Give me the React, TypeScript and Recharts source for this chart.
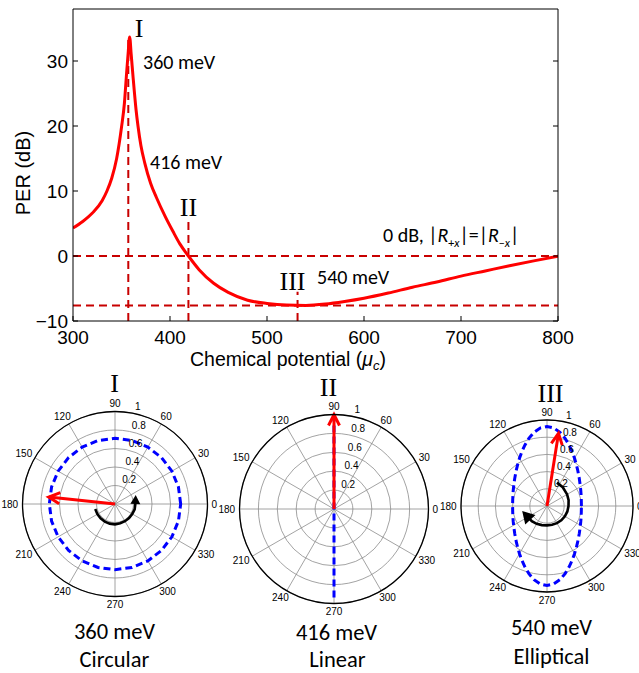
import React from 'react';
import {
  LineChart, Line, XAxis, YAxis, ReferenceLine,
  RadarChart, Radar, PolarGrid, PolarAngleAxis, PolarRadiusAxis,
} from 'recharts';

// ---- top panel: PER vs chemical potential ----
const muTicks = [300, 400, 500, 600, 700, 800];
const perTicks = [-10, 0, 10, 20, 30];
const muValues = [300, 310, 320, 330, 335, 340, 345, 350, 353, 355, 357, 358.4, 360, 362, 365, 367, 370, 374, 380, 386, 395, 403, 410, 419, 430, 445, 460, 480, 500, 520, 540, 560, 580, 600, 625, 650, 675, 700, 725, 750, 775, 800];
const perValues = [4.3, 5.3, 6.6, 8.5, 10.0, 12.0, 15.0, 19.8, 23.5, 27.6, 31.5, 33.7, 31.0, 27.4, 22.5, 20.0, 17.0, 14.3, 11.2, 9.0, 6.1, 3.8, 1.9, 0.0, -2.1, -4.2, -5.6, -6.8, -7.3, -7.55, -7.6, -7.4, -7.0, -6.5, -5.7, -4.8, -4.0, -3.1, -2.3, -1.5, -0.75, -0.05];
const levelLines = [0, -7.6];
const stateMarkers = [
  { mu: 357, top: 33.7 },
  { mu: 419, top: 5.5 },
  { mu: 531.5, top: -5.5 },
];

const perData = muValues.map((mu, i) => ({ mu, per: perValues[i] }));

// ---- polar panels ----
const angleTicks = [0, 30, 60, 90, 120, 150, 180, 210, 240, 270, 300, 330];
const radiusTicks = [0.2, 0.4, 0.6, 0.8, 1];
const circleAngles = [0, 15, 30, 45, 60, 75, 90, 105, 120, 135, 150, 165, 180, 195, 210, 225, 240, 255, 270, 285, 300, 315, 330, 345];
const ellipseI = [0.71, 0.71, 0.71, 0.71, 0.71, 0.71, 0.71, 0.71, 0.71, 0.71, 0.71, 0.71, 0.71, 0.71, 0.71, 0.71, 0.71, 0.71, 0.71, 0.71, 0.71, 0.71, 0.71, 0.71];
const ellipseAngles = [
  0, 5, 10, 15, 20, 25, 30, 35, 40, 45, 50, 55, 60, 65, 70, 75, 80, 85,
  90, 95, 100, 105, 110, 115, 120, 125, 130, 135, 140, 145, 150, 155, 160, 165, 170, 175,
  180, 185, 190, 195, 200, 205, 210, 215, 220, 225, 230, 235, 240, 245, 250, 255, 260, 265,
  270, 275, 280, 285, 290, 295, 300, 305, 310, 315, 320, 325, 330, 335, 340, 345, 350, 355,
];
const ellipseIII = [
  0.400, 0.401, 0.405, 0.411, 0.421, 0.433, 0.448, 0.467, 0.491, 0.519, 0.553, 0.593, 0.640, 0.694, 0.753, 0.814, 0.870, 0.910,
  0.925, 0.910, 0.870, 0.814, 0.753, 0.694, 0.640, 0.593, 0.553, 0.519, 0.491, 0.467, 0.448, 0.433, 0.421, 0.411, 0.405, 0.401,
  0.400, 0.401, 0.405, 0.411, 0.421, 0.433, 0.448, 0.467, 0.491, 0.519, 0.553, 0.593, 0.640, 0.694, 0.753, 0.814, 0.870, 0.910,
  0.925, 0.910, 0.870, 0.814, 0.753, 0.694, 0.640, 0.593, 0.553, 0.519, 0.491, 0.467, 0.448, 0.433, 0.421, 0.411, 0.405, 0.401,
];
const lineIIAngles = [90, 270];
const lineII = [1, 0.98];
const arrowAngles = [174, 90, 81];
const arrowLengths = [0.72, 1, 0.855];
const arcIAngles = [194, 210, 225, 240, 255, 270, 285, 300, 315, 330, 345, 0, 10];
const arcIR = [0.22, 0.22, 0.22, 0.22, 0.22, 0.22, 0.215, 0.215, 0.215, 0.215, 0.22, 0.22, 0.225];
const arcIIIAngles = [67, 50, 30, 15, 0, 345, 330, 315, 300, 285, 270, 255, 240, 225, 207];
const arcIIIR = [0.295, 0.285, 0.27, 0.26, 0.25, 0.245, 0.24, 0.235, 0.23, 0.225, 0.225, 0.23, 0.24, 0.25, 0.26];

function buildRows(curveAngles: number[], curveR: number[], arrowAngle: number, arrowR: number, arcAngles?: number[], arcR?: number[]) {
  const rows: any[] = curveAngles.map((a, i) => ({ angle: a, curve: curveR[i] }));
  rows.push({ angle: arrowAngle, arrow: arrowR });
  if (arcAngles && arcR) arcAngles.forEach((a, i) => rows.push({ angle: a, arc: arcR[i] }));
  return rows;
}

const SANS = '"Liberation Sans", Arial, sans-serif';
const CAL = 'Carlito, Lato, "Open Sans", sans-serif';
const SERIF = '"Liberation Serif", "Times New Roman", serif';

const usable = (points: any[]) => (points || []).filter((p) => p.value != null && Number.isFinite(p.x) && Number.isFinite(p.y));

const curveShape = (closed: boolean) => (props: any) => {
  const pts = usable(props.points);
  if (!pts.length) return <g />;
  const d = 'M' + pts.map((p) => `${p.x},${p.y}`).join('L') + (closed ? 'Z' : '');
  return <path d={d} fill="none" stroke="#0000ff" strokeWidth={3} strokeDasharray="7 4" />;
};

const arrowShape = (props: any) => {
  const pts = usable(props.points);
  return (
    <g>
      {pts.map((p, i) => {
        const a = (p.angle * Math.PI) / 180;
        const ux = Math.cos(a);
        const uy = -Math.sin(a);
        const L = 11;
        const w = 5.5;
        const bx = p.x - ux * L;
        const by = p.y - uy * L;
        return (
          <g key={i}>
            <line x1={p.cx} y1={p.cy} x2={p.x} y2={p.y} stroke="#ff0000" strokeWidth={3} />
            <polyline
              points={`${bx - uy * w},${by + ux * w} ${p.x},${p.y} ${bx + uy * w},${by - ux * w}`}
              fill="none" stroke="#ff0000" strokeWidth={3} strokeLinejoin="miter"
            />
          </g>
        );
      })}
    </g>
  );
};

const arcShape = (L: number, w: number) => (props: any) => {
  const pts = usable(props.points);
  if (pts.length < 2) return <g />;
  const d = 'M' + pts.map((p) => `${p.x},${p.y}`).join('L');
  const last = pts[pts.length - 1];
  const prev = pts[pts.length - 2];
  const dx = last.x - prev.x;
  const dy = last.y - prev.y;
  const n = Math.hypot(dx, dy) || 1;
  const ux = dx / n;
  const uy = dy / n;
  const tipX = last.x + ux * L * 0.6;
  const tipY = last.y + uy * L * 0.6;
  const bx = last.x - ux * L * 0.4;
  const by = last.y - uy * L * 0.4;
  return (
    <g>
      <path d={d} fill="none" stroke="#000" strokeWidth={2.6} />
      <polygon points={`${tipX},${tipY} ${bx - uy * w},${by + ux * w} ${bx + uy * w},${by - ux * w}`} fill="#000" />
    </g>
  );
};

const AngleTick = (props: any) => {
  const { x, y, payload } = props;
  const a = (payload.coordinate * Math.PI) / 180;
  const label = String(payload.value);
  const hw = label.length * 2.9;
  return (
    <text x={x + Math.cos(a) * hw} y={y - Math.sin(a) * 4} textAnchor="middle" dominantBaseline="central"
      fontSize={10} fontFamily={SANS} fill="#000">{label}</text>
  );
};

const RadiusTick = (props: any) => {
  const { x, y, payload } = props;
  return (
    <text x={x + 4} y={y - 6} textAnchor="start" dominantBaseline="central" fontSize={10} fontFamily={SANS} fill="#000">
      {String(payload.value)}
    </text>
  );
};

const noTick = () => <g />;

function PolarPanel({ cx, cy, r, rows, closed, arc }: any) {
  const W = 250;
  const H = 255;
  const top = 375;
  return (
    <div style={{ position: 'absolute', left: cx - W / 2, top }}>
      <RadarChart width={W} height={H} cx={W / 2} cy={cy - top} outerRadius={r} innerRadius={0}
        startAngle={0} endAngle={360} data={rows} margin={{ top: 0, right: 0, bottom: 0, left: 0 }}>
        <PolarGrid gridType="circle" stroke="#8c8c8c" strokeWidth={0.8} />
        <PolarAngleAxis dataKey="angle" type="number" domain={[0, 360]} ticks={angleTicks} allowDataOverflow
          tickLine={false} tickSize={4} axisLine={{ stroke: '#000', strokeWidth: 1.3 }} axisLineType="circle" tick={AngleTick} />
        <PolarRadiusAxis angle={80} type="number" domain={[0, 1]} ticks={radiusTicks} axisLine={false}
          tickLine={false} tick={RadiusTick} />
        <Radar dataKey="curve" isAnimationActive={false} dot={false} shape={curveShape(closed)} />
        <Radar dataKey="arrow" isAnimationActive={false} dot={false} shape={arrowShape} />
        {arc && <Radar dataKey="arc" isAnimationActive={false} dot={false} shape={arcShape(arc[0], arc[1])} />}
      </RadarChart>
    </div>
  );
}

const abs = (left: number, top: number, content: React.ReactNode, style: React.CSSProperties = {}, center = false) => (
  <div style={{
    position: 'absolute', left, top, whiteSpace: 'nowrap', lineHeight: 1,
    transform: center ? 'translate(-50%, -50%)' : 'translateY(-50%)', color: '#000', ...style,
  }}>{content}</div>
);

const minus = (v: number) => String(v).replace('-', '\u2212');

export default function App() {
  const dash = { stroke: '#c80000', strokeWidth: 2, strokeDasharray: '8 5' };
  return (
    <div style={{ position: 'absolute', left: 0, top: 0, width: 639, height: 673, background: '#fff', overflow: 'hidden' }}>
      <div style={{ position: 'absolute', left: 0, top: 0 }}>
        <LineChart width={639} height={350} data={perData} margin={{ top: 8, right: 80, bottom: 0, left: 0 }}>
          <XAxis dataKey="mu" type="number" domain={[300, 800]} ticks={muTicks} allowDataOverflow height={29}
            tickSize={-5} tickMargin={15} stroke="#000" axisLine={{ stroke: '#000' }}
            tick={{ fontSize: 19, fontFamily: SANS, fill: '#000' }} />
          <XAxis xAxisId="top" orientation="top" type="number" domain={[300, 800]} ticks={muTicks} allowDataOverflow
            height={1} tickSize={-5} tick={noTick} stroke="#000" />
          <YAxis type="number" domain={[-10, 38]} ticks={perTicks} allowDataOverflow width={73}
            tickSize={-5} tickMargin={10} stroke="#000" tickFormatter={minus}
            tick={{ fontSize: 19, fontFamily: SANS, fill: '#000' }} />
          <YAxis yAxisId="right" orientation="right" type="number" domain={[-10, 38]} ticks={perTicks} allowDataOverflow
            width={1} tickSize={-5} tick={noTick} stroke="#000" />
          {levelLines.map((y) => (
            <ReferenceLine key={y} y={y} {...dash} />
          ))}
          {stateMarkers.map((m) => (
            <ReferenceLine key={m.mu} segment={[{ x: m.mu, y: -10 }, { x: m.mu, y: m.top }]} {...dash} />
          ))}
          <Line type="monotone" dataKey="per" stroke="#ff0000" strokeWidth={3} dot={false} isAnimationActive={false} />
        </LineChart>
      </div>

      {abs(23, 173, 'PER (dB)', { fontFamily: SANS, fontSize: 20, transform: 'translate(-50%, -50%) rotate(-90deg)' })}
      {abs(190, 361, <span>Chemical potential (<i>μ</i><sub style={{ fontSize: 13 }}><i>c</i></sub>)</span>, { fontFamily: SANS, fontSize: 19.5 })}

      {abs(139, 29, 'I', { fontFamily: SERIF, fontSize: 26 }, true)}
      {abs(143, 62, '360 meV', { fontFamily: CAL, fontSize: 20 })}
      {abs(150, 162, '416 meV', { fontFamily: CAL, fontSize: 20 })}
      {abs(188.5, 208, 'II', { fontFamily: SERIF, fontSize: 26 }, true)}
      {abs(383, 237, <span>0 dB, |<i>R</i><sub style={{ fontSize: 12 }}>+<i>x</i></sub>|=|<i>R</i><sub style={{ fontSize: 12 }}>−<i>x</i></sub>|</span>, { fontFamily: CAL, fontSize: 20 })}
      {abs(292.5, 282, 'III', { fontFamily: SERIF, fontSize: 26 }, true)}
      {abs(317, 277, '540 meV', { fontFamily: CAL, fontSize: 20 })}

      <PolarPanel cx={114.5} cy={504} r={92.5} closed
        rows={buildRows(circleAngles, ellipseI, arrowAngles[0], arrowLengths[0], arcIAngles, arcIR)} arc={[9, 5]} />
      <PolarPanel cx={334} cy={509} r={94.5} closed={false}
        rows={buildRows(lineIIAngles, lineII, arrowAngles[1], arrowLengths[1])} />
      <PolarPanel cx={547} cy={506} r={86} closed
        rows={buildRows(ellipseAngles, ellipseIII, arrowAngles[2], arrowLengths[2], arcIIIAngles, arcIIIR)} arc={[12, 7]} />

      {abs(114.5, 383.5, 'I', { fontFamily: SERIF, fontSize: 26 }, true)}
      {abs(328.5, 388, 'II', { fontFamily: SERIF, fontSize: 26 }, true)}
      {abs(550.5, 394, 'III', { fontFamily: SERIF, fontSize: 26 }, true)}

      {abs(114.5, 632, '360 meV', { fontFamily: CAL, fontSize: 22.5 }, true)}
      {abs(114.5, 660, 'Circular', { fontFamily: CAL, fontSize: 22.5 }, true)}
      {abs(336.5, 633, '416 meV', { fontFamily: CAL, fontSize: 22.5 }, true)}
      {abs(337.5, 660, 'Linear', { fontFamily: CAL, fontSize: 22.5 }, true)}
      {abs(551.5, 628, '540 meV', { fontFamily: CAL, fontSize: 22.5 }, true)}
      {abs(551.5, 657, 'Elliptical', { fontFamily: CAL, fontSize: 22.5 }, true)}
    </div>
  );
}
